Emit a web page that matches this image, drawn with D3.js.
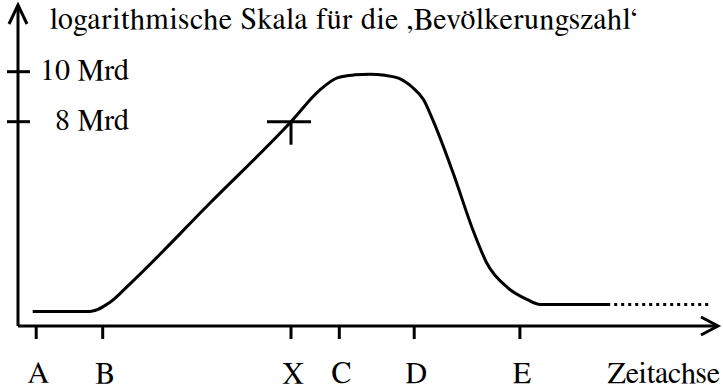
<!DOCTYPE html>
<meta charset="utf-8">
<head>
    <script type="text/javascript" src="https://cdn.jsdelivr.net/npm/d3@7"></script>
    <style>
        body { margin: 0; background: white; }
    </style>
    <title></title>
</head>
<body>
<script>

    var width = 723
    var height = 389

    // time in arbitrary units (0..100), population in Mrd on a log scale
    var timeTicks = [2.6, 12.1, 39, 45.9, 56.6, 71.7]
    var timeLabels = ["A", "B", "X", "C", "D", "E"]
    var popTicks = [10, 8]
    var popLabels = ["10 Mrd", "8 Mrd"]

    var curveTime = [2.1, 10.3, 13.1, 16, 27.4, 39, 43.1, 45.6, 48.1, 50.3, 52.4, 54.6, 56.3, 57.9, 59.3, 62.1, 65, 67, 69.9, 72.7, 74.6, 84.6]
    var curvePop = [3.43, 3.43, 3.57, 3.88, 5.56, 8.0, 9.21, 9.73, 9.86, 9.89, 9.84, 9.69, 9.34, 8.84, 8.04, 6.40, 4.93, 4.25, 3.82, 3.62, 3.54, 3.54]

    var futureTime = [84.6, 98.1]
    var futurePop = [3.54, 3.54]

    var markTime = 39
    var markPop = 8

    var svg = d3.select("body").append("svg")
        .attr("width", width)
        .attr("height", height)

    var x = d3.scaleLinear().domain([0, 100]).range([18, 718])
    var y = d3.scaleLog().domain([8, 10]).range([121.7, 71.7])

    var x0 = x(0), y0 = 326

    // axes with arrows
    var axes = svg.append("g")
        .attr("fill", "none")
        .attr("stroke", "black")
        .attr("stroke-width", 3)

    axes.append("path").attr("d", "M" + x0 + "," + y0 + "V5")
    axes.append("path").attr("d", "M" + (x0 - 9) + ",24L" + x0 + ",5L" + (x0 + 9) + ",24")
    axes.append("path").attr("d", "M" + x0 + "," + y0 + "H718")
    axes.append("path").attr("d", "M701,317L718," + y0 + "L701,335")

    // y ticks
    axes.selectAll(".ytick")
        .data(popTicks)
        .enter()
        .append("line")
        .attr("x1", x0 - 11)
        .attr("x2", x0 + 12)
        .attr("y1", d => y(d))
        .attr("y2", d => y(d))

    function label(sel) {
        sel.style("font-family", "'FreeSerif', 'Tinos', 'Times New Roman', 'Liberation Serif'")
            .style("font-size", "30px")
            .attr("fill", "black")
    }

    svg.selectAll(".ylab")
        .data(popTicks)
        .enter()
        .append("text")
        .attr("x", 129)
        .attr("y", d => y(d) + 8)
        .attr("text-anchor", "end")
        .text((d, i) => popLabels[i])
        .call(label)

    // x ticks
    axes.selectAll(".xtick")
        .data(timeTicks)
        .enter()
        .append("line")
        .attr("x1", d => x(d))
        .attr("x2", d => x(d))
        .attr("y1", y0)
        .attr("y2", y0 + 13)

    svg.selectAll(".xlab")
        .data(timeTicks)
        .enter()
        .append("text")
        .attr("x", d => x(d) + 2)
        .attr("y", 383)
        .attr("text-anchor", "middle")
        .text((d, i) => timeLabels[i])
        .call(label)

    svg.append("text")
        .attr("x", 720)
        .attr("y", 383)
        .attr("text-anchor", "end")
        .text("Zeitachse")
        .call(label)

    svg.append("text")
        .attr("x", 50)
        .attr("y", 29)
        .attr("textLength", 587)
        .attr("lengthAdjust", "spacing")
        .text("logarithmische Skala f\u00fcr die \u201aBev\u00f6lkerungszahl\u2018")
        .call(label)

    // population curve
    var line = d3.line()
        .x(d => x(d[0]))
        .y(d => y(d[1]))
        .curve(d3.curveMonotoneX)

    svg.append("path")
        .datum(d3.zip(curveTime, curvePop))
        .attr("d", line)
        .attr("fill", "none")
        .attr("stroke", "black")
        .attr("stroke-width", 3)

    svg.append("path")
        .datum(d3.zip(futureTime, futurePop))
        .attr("d", d3.line().x(d => x(d[0]) + 4).y(d => y(d[1])))
        .attr("fill", "none")
        .attr("stroke", "black")
        .attr("stroke-width", 3)
        .attr("stroke-dasharray", "3,4")

    // marker at X / 8 Mrd
    var mx = x(markTime), my = y(markPop)
    axes.append("line").attr("x1", mx - 24).attr("x2", mx + 20).attr("y1", my).attr("y2", my)
    axes.append("line").attr("x1", mx).attr("x2", mx).attr("y1", my).attr("y2", my + 23)

</script>
</body>
</html>
